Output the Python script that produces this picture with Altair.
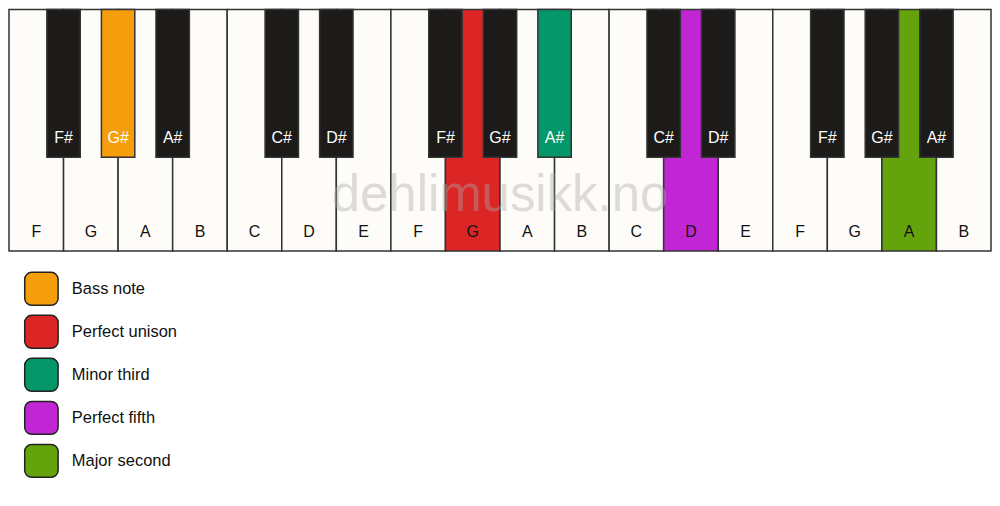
import altair as alt
import pandas as pd

# ---- data ----
white_notes = ["F", "G", "A", "B", "C", "D", "E", "F", "G", "A", "B", "C", "D", "E", "F", "G", "A", "B"]
black_notes = ["F#", "G#", "A#", "C#", "D#", "F#", "G#", "A#", "C#", "D#", "F#", "G#", "A#"]
black_boundary = [1, 2, 3, 5, 6, 8, 9, 10, 12, 13, 15, 16, 17]  # white-key boundary each black key sits on
legend_labels = ["Bass note", "Perfect unison", "Minor third", "Perfect fifth", "Major second"]
legend_colors = ["#F59E0B", "#DC2626", "#059669", "#C026D3", "#65A30D"]
white_highlight = {8: "Perfect unison", 12: "Perfect fifth", 16: "Major second"}
black_highlight = {1: "Bass note", 7: "Minor third"}
watermark = "dehlimusikk.no"

# ---- layout constants ----
W, H = 1000, 506
KW = W / len(white_notes)
WHITE_LEN, BLACK_LEN, BW = 250, 153, 34
WHITE_FILL, BLACK_FILL, EDGE = "#FEFCF8", "#1C1B1A", "#333333"
FONT = "Liberation Sans"
color_of = dict(zip(legend_labels, legend_colors))

wdf = pd.DataFrame({"note": white_notes, "i": range(len(white_notes))})
wdf["x"] = wdf["i"] * KW
wdf["x2"] = wdf["x"] + KW
wdf["xc"] = wdf["x"] + KW / 2
wdf["y"] = 0
wdf["y2"] = WHITE_LEN
wdf["ly"] = 230
wdf["fill"] = [color_of.get(white_highlight.get(i), WHITE_FILL) for i in wdf["i"]]

bdf = pd.DataFrame({"note": black_notes, "b": black_boundary, "k": range(len(black_notes))})
bdf["xc"] = bdf["b"] * KW
bdf["x"] = bdf["xc"] - BW / 2
bdf["x2"] = bdf["xc"] + BW / 2
bdf["y"] = 0
bdf["y2"] = BLACK_LEN
bdf["ly"] = 133
bdf["fill"] = [color_of.get(black_highlight.get(k), BLACK_FILL) for k in bdf["k"]]

ldf = pd.DataFrame({"label": legend_labels, "color": legend_colors, "k": range(len(legend_labels))})
ldf["x"] = 16
ldf["x2"] = 50
ldf["y"] = 272 + ldf["k"] * 44.5
ldf["y2"] = ldf["y"] + 34
ldf["yc"] = ldf["y"] + 17
ldf["tx"] = 64

wm = pd.DataFrame({"text": [watermark], "x": [W / 2], "y": [193]})

xs = alt.Scale(domain=[0, W], nice=False, zero=False)
ys = alt.Scale(domain=[0, H], nice=False, zero=False, reverse=True)


def X(f):
    return alt.X(f, type="quantitative", scale=xs, axis=None)


def Y(f):
    return alt.Y(f, type="quantitative", scale=ys, axis=None)


white_keys = alt.Chart(wdf).mark_rect(stroke=EDGE, strokeWidth=1.5).encode(
    x=X("x"), x2="x2", y=Y("y"), y2="y2", fill=alt.Fill("fill:N", scale=None)
)
white_text = alt.Chart(wdf).mark_text(font=FONT, fontSize=16, color="#111111", baseline="middle").encode(
    x=X("xc"), y=Y("ly"), text="note:N"
)
black_keys = alt.Chart(bdf).mark_rect(stroke=EDGE, strokeWidth=1.5).encode(
    x=X("x"), x2="x2", y=Y("y"), y2="y2", fill=alt.Fill("fill:N", scale=None)
)
black_text = alt.Chart(bdf).mark_text(font=FONT, fontSize=16, color="#FFFFFF", baseline="middle").encode(
    x=X("xc"), y=Y("ly"), text="note:N"
)
wm_text = alt.Chart(wm).mark_text(font=FONT, fontSize=51, color="#AAAAAA", opacity=0.4, baseline="middle").encode(
    x=X("x"), y=Y("y"), text="text:N"
)
leg_rect = alt.Chart(ldf).mark_rect(stroke="#222222", strokeWidth=1.5, cornerRadius=7).encode(
    x=X("x"), x2="x2", y=Y("y"), y2="y2", fill=alt.Fill("color:N", scale=None)
)
leg_text = alt.Chart(ldf).mark_text(font=FONT, fontSize=16.5, color="#111111", align="left", baseline="middle").encode(
    x=X("tx"), y=Y("yc"), text="label:N"
)

chart = alt.layer(white_keys, black_keys, white_text, black_text, wm_text, leg_rect, leg_text).properties(
    width=984, height=490, padding=0, background="#FFFFFF"
).configure_view(strokeWidth=0)

chart.save("out.html", embed_options={"renderer": "svg", "actions": False})
